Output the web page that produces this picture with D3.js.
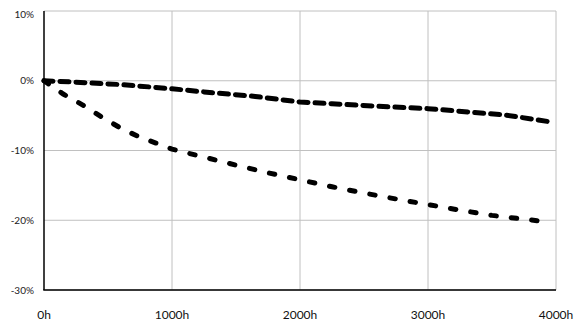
<!DOCTYPE html>
<html>
<head>
<meta charset="utf-8">
<script src="https://d3js.org/d3.v7.min.js"></script>
<style>
  html, body { margin: 0; padding: 0; background: #fff; }
  svg { display: block; }
  .grid line { stroke: #c0c0c0; stroke-width: 1; }
  .ylab { font-family: Lato, sans-serif; font-size: 10px; fill: #222; }
  .xlab { font-family: Lato, sans-serif; font-size: 12px; fill: #111; }
</style>
</head>
<body>
<svg id="chart" width="580" height="329"></svg>
<script>
// tick values
const xTicks = [0, 1000, 2000, 3000, 4000];
const yTicks = [10, 0, -10, -20, -30];

// upper series (long dashes)
const upperHours = [0, 250, 600, 1000, 1250, 1650, 2000, 2250, 2650, 3000, 3200, 3600, 3940];
const upperValues = [0, -0.2, -0.55, -1.15, -1.6, -2.25, -3.05, -3.3, -3.7, -4.0, -4.3, -4.9, -5.85];

// lower series (short dashes)
const lowerHours = [0, 150, 300, 450, 600, 750, 900, 1000, 1250, 1500, 1750, 2000, 2250, 2500, 2750, 3000, 3250, 3500, 3750, 3870];
const lowerValues = [0, -1.9, -3.45, -5.2, -6.8, -8.1, -9.1, -9.8, -10.95, -12.1, -13.2, -14.2, -15.2, -16.1, -16.95, -17.75, -18.55, -19.3, -19.85, -20.1];

const svg = d3.select('#chart');
const margin = { left: 44, right: 24, top: 11, bottom: 39 };
const width = 580, height = 329;

const x = d3.scaleLinear().domain([0, 4000]).range([margin.left, width - margin.right]);
const y = d3.scaleLinear().domain([-30, 10]).range([height - margin.bottom, margin.top]);

// gridlines
const grid = svg.append('g').attr('class', 'grid');
grid.selectAll('.h').data(yTicks).enter().append('line')
  .attr('x1', x(0)).attr('x2', x(4000))
  .attr('y1', d => y(d)).attr('y2', d => y(d));
grid.selectAll('.v').data(xTicks.slice(1)).enter().append('line')
  .attr('x1', d => x(d)).attr('x2', d => x(d))
  .attr('y1', y(10)).attr('y2', y(-30));

// axes lines
svg.append('line').attr('x1', x(0)).attr('x2', x(0)).attr('y1', y(10)).attr('y2', y(-30))
  .attr('stroke', '#000').attr('stroke-width', 1.5);
svg.append('line').attr('x1', x(0) - 0.75).attr('x2', x(4000)).attr('y1', y(-30)).attr('y2', y(-30))
  .attr('stroke', '#000').attr('stroke-width', 1.5);

// tick labels
svg.selectAll('.ylab').data(yTicks).enter().append('text')
  .attr('class', 'ylab')
  .attr('x', 34)
  .attr('y', d => Math.max(y(d), 14))
  .attr('dy', '0.35em')
  .attr('text-anchor', 'end')
  .text(d => d + '%');

svg.selectAll('.xlab').data(xTicks).enter().append('text')
  .attr('class', 'xlab')
  .attr('x', d => x(d))
  .attr('y', 315)
  .attr('dy', '0.35em')
  .attr('text-anchor', 'middle')
  .text(d => d + 'h');

const line = d3.line().x(d => x(d[0])).y(d => y(d[1]));

svg.append('path')
  .datum(d3.zip(lowerHours, lowerValues))
  .attr('d', line)
  .attr('fill', 'none')
  .attr('stroke', '#000')
  .attr('stroke-width', 5)
  .attr('stroke-linecap', 'round')
  .attr('stroke-dasharray', '5.5,15');

svg.append('path')
  .datum(d3.zip(upperHours, upperValues))
  .attr('d', line)
  .attr('fill', 'none')
  .attr('stroke', '#000')
  .attr('stroke-width', 5)
  .attr('stroke-linecap', 'round')
  .attr('stroke-dasharray', '9,7');
</script>
</body>
</html>
